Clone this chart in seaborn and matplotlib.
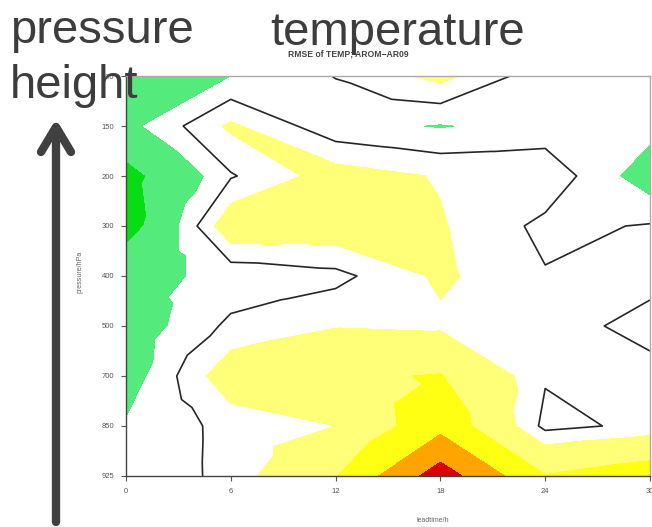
import numpy as np
import matplotlib
matplotlib.use("Agg")
import matplotlib.pyplot as plt
import matplotlib.tri as mtri
from matplotlib.lines import Line2D
import seaborn as sns

# ---------------- data ----------------
lead_hours = [0, 6, 12, 18, 24, 30]
pressure_levels = ["100", "150", "200", "300", "400", "500", "700", "850", "925"]

rmse_100 = [-0.200, -0.105, 0.004, 0.136, -0.068, -0.050]
rmse_150 = [-0.144, 0.120, -0.069, -0.111, -0.061, -0.060]
rmse_200 = [-0.370, -0.010, 0.154, 0.091, 0.075, -0.175]
rmse_300 = [-0.400, 0.190, 0.180, 0.110, -0.0275, 0.0084]
rmse_400 = [-0.139, -0.072, -0.031, 0.121, 0.0078, 0.0286]
rmse_500 = [-0.183, 0.024, 0.0925, 0.077, 0.040, -0.031]
rmse_700 = [-0.171, 0.182, 0.272, 0.310, 0.010, 0.031]
rmse_850 = [-0.090, 0.033, 0.100, 0.440, -0.030, 0.025]
rmse_925 = [-0.095, 0.035, 0.290, 0.800, 0.310, 0.420]

# lower bounds of the colour classes (first class is everything below -0.3)
class_bounds = [-0.3, -0.1, 0.1, 0.3, 0.5, 0.7]
class_colors = ["#08dc12", "#55ea7c", "#ffffff", "#ffff78", "#ffff14", "#ffa400", "#d80000"]
line_level = 0.0

title_text = "RMSE of TEMP; AROM\u2212AR09"
x_label = "leadtime/h"
y_label = "pressure/hPa"

# ---------------- style ----------------
sns.set_theme(style="ticks")
plt.rcParams["font.family"] = ["Liberation Sans", "DejaVu Sans"]

W, H = 652, 527
fig = plt.figure(figsize=(W / 100, H / 100), dpi=100)
fig.patch.set_facecolor("white")


def fx(x):
    return x / W


def fy(y):
    return 1 - y / H


ax = fig.add_axes([fx(126), fy(476), fx(650) - fx(126), fy(76) - fy(476)])
ax.set_facecolor("white")

Z = np.array([rmse_100, rmse_150, rmse_200, rmse_300, rmse_400,
              rmse_500, rmse_700, rmse_850, rmse_925])
nr, nc = Z.shape
xs = np.array(lead_hours, float)
ys = np.arange(nr, dtype=float)
X, Y = np.meshgrid(xs, ys)

# cell centre nodes (mean of the four corners), used only to split grid cells
cx, cy = np.meshgrid((xs[:-1] + xs[1:]) / 2, (ys[:-1] + ys[1:]) / 2)
cz = (Z[:-1, :-1] + Z[:-1, 1:] + Z[1:, :-1] + Z[1:, 1:]) / 4.0
px = np.concatenate([X.ravel(), cx.ravel()])
py = np.concatenate([Y.ravel(), cy.ravel()])
pz = np.concatenate([Z.ravel(), cz.ravel()])
n_grid = nr * nc
ztop = Z.max() + 1.0


def cell_triangles(i, j, lev):
    a = i * nc + j
    b = a + 1
    c = a + nc
    d = c + 1
    m = n_grid + i * (nc - 1) + j
    split_ad = [[a, b, d], [a, d, c]]
    split_bc = [[a, b, c], [b, d, c]]
    vals = (Z[i, j], Z[i, j + 1], Z[i + 1, j], Z[i + 1, j + 1])
    s = [v >= lev for v in vals]
    n = sum(s)
    if n in (1, 3):
        # one corner cut off: straight segment, like a quad contourer
        iso = s.index(True) if n == 1 else s.index(False)
        return split_bc if iso in (0, 3) else split_ad
    if n == 2 and s[0] == s[3]:
        # saddle: join the pair on the side of the zero line that the centre lies on
        join_high = cz[i, j] >= min(lev, 0.0)
        return split_ad if join_high == s[0] else split_bc
    if n == 2:
        return [[a, b, m], [b, d, m], [d, c, m], [c, a, m]]
    return split_ad


def level_triangulation(lev):
    tris = []
    for i in range(nr - 1):
        for j in range(nc - 1):
            tris += cell_triangles(i, j, lev)
    return mtri.Triangulation(px, py, np.array(tris))


# background class, then each class painted over where the field exceeds its bound
ax.tricontourf(level_triangulation(0.0), pz, levels=[Z.min() - 1.0, ztop],
               colors=[class_colors[0]])
for bound, col in zip(class_bounds, class_colors[1:]):
    if Z.max() >= bound:
        ax.tricontourf(level_triangulation(bound), pz, levels=[bound, ztop], colors=[col])
ax.tricontour(level_triangulation(line_level), pz, levels=[line_level],
              colors="#262626", linewidths=1.2)

ax.set_xlim(0, 30)
ax.set_ylim(nr - 1, 0)
ax.set_xticks(lead_hours)
ax.set_xticklabels([str(h) for h in lead_hours])
ax.set_yticks(range(nr))
ax.set_yticklabels(pressure_levels)
ax.tick_params(direction="out", length=3.5, width=0.8, colors="#555555",
               labelsize=5.5, pad=5)
for side in ["left", "bottom"]:
    ax.spines[side].set_color("#444444")
    ax.spines[side].set_linewidth(1.0)
for side in ["top", "right"]:
    ax.spines[side].set_color("#aaaaaa")
    ax.spines[side].set_linewidth(1.0)

fig.text(fx(433), fy(520), x_label, fontsize=5, color="#666666", ha="center", va="center")
fig.text(fx(80), fy(272), y_label, fontsize=5, color="#666666", ha="center", va="center",
         rotation=90)
fig.text(fx(348), fy(54), title_text, fontsize=6.2, color="#444444", ha="center",
         va="center", fontweight="bold")

# overlay annotations
txt_kw = dict(fontsize=34, color="#3d3d3d", va="baseline", ha="left")
fig.text(fx(10), fy(43), "pressure", **txt_kw)
fig.text(fx(10), fy(98), "height", **txt_kw)
fig.text(fx(270), fy(45), "temperature", **txt_kw)

arrow_kw = dict(color="#404040", linewidth=6, solid_capstyle="round",
                solid_joinstyle="round", transform=fig.transFigure)
fig.add_artist(Line2D([fx(56), fx(56)], [fy(522), fy(130)], **arrow_kw))
fig.add_artist(Line2D([fx(41), fx(56), fx(71)], [fy(152), fy(127), fy(152)], **arrow_kw))

fig.savefig("out.png", dpi=100, facecolor="white")
